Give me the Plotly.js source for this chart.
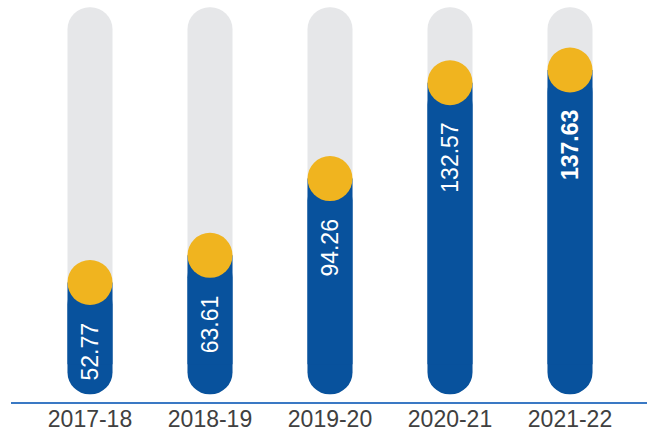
<!DOCTYPE html>
<html>
<head>
<meta charset="utf-8">
<script src="https://cdn.plot.ly/plotly-3.0.1.min.js"></script>
<style>html,body{margin:0;padding:0;background:#fff;}#chart{width:647px;height:432px;}</style>
</head>
<body>
<div id="chart"></div>
<script>
// ---- data ----
var years = ["2017-18", "2018-19", "2019-20", "2020-21", "2021-22"];
var values = [52.77, 63.61, 94.26, 132.57, 137.63];
var valueLabels = ["52.77", "63.61", "94.26", "132.57", "137.63"];

// ---- style constants ----
var trackTop = 162.7;     // top of the grey track
var barBottom = 8.1;      // bottom end of bars
var capUnits = 12;        // height of the rounded bottom cap region
var BLUE = "#08529D", YELLOW = "#F0B41F", GREY = "#E6E7E9";
var FONT = "Arial, 'Liberation Sans', sans-serif";
var barW = 0.375;

var n = years.length;
function fill(v){ return years.map(function(){ return v; }); }

var traces = [
  // grey track (rounded both ends)
  { type: "bar", x: years, y: fill(trackTop - barBottom), base: fill(barBottom), width: barW,
    marker: { color: GREY, cornerradius: "50%", line: {width: 0} }, hoverinfo: "skip" },
  // blue bar, rounded
  { type: "bar", x: years, y: values.map(function(v){ return v - barBottom; }), base: fill(barBottom), width: barW,
    marker: { color: BLUE, cornerradius: "50%", line: {width: 0} }, hoverinfo: "skip" },
  // blue bar, square top part
  { type: "bar", x: years, y: values.map(function(v){ return v - barBottom - capUnits; }), base: fill(barBottom + capUnits), width: barW,
    marker: { color: BLUE, line: {width: 0} }, hoverinfo: "skip" },
  // yellow knobs
  { type: "scatter", mode: "markers", x: years, y: values,
    marker: { color: YELLOW, size: 45, line: {width: 0} }, hoverinfo: "skip" }
];

var annotations = years.map(function(yr, i){
  var t = valueLabels[i];
  if (i === n - 1) t = "<b>" + t + "</b>";
  return { x: yr, y: values[i], xref: "x", yref: "y", text: t, showarrow: false,
    textangle: -90, yanchor: "top", xanchor: "center", yshift: -38,
    font: { family: FONT, size: 23, color: "#ffffff" } };
});

var layout = {
  width: 647, height: 432,
  margin: { l: 11, r: 0, t: 0, b: 30, pad: 0 },
  paper_bgcolor: "#ffffff", plot_bgcolor: "#ffffff",
  barmode: "overlay", showlegend: false,
  xaxis: { type: "category", range: [-0.6583, 4.6417], showgrid: false, zeroline: false,
    showline: true, linecolor: "#3A79C4", linewidth: 1.5, ticks: "", ticklabelstandoff: -4,
    ticklabelshift: 3.5,
    tickfont: { family: FONT, size: 23, color: "#404040" }, fixedrange: true },
  yaxis: { range: [5.03, 165.6], showgrid: false, zeroline: false, showline: false,
    showticklabels: false, ticks: "", fixedrange: true },
  annotations: annotations
};

Plotly.newPlot("chart", traces, layout, { displayModeBar: false, staticPlot: true });
</script>
</body>
</html>
